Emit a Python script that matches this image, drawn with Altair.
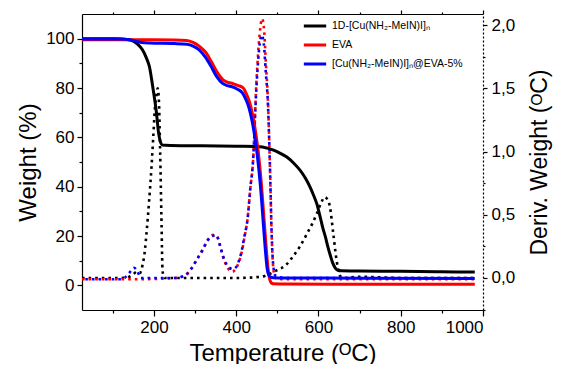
import altair as alt
import pandas as pd

# ---- series names (legend) ----
series_names = ["1D-[Cu(NH\u2082-MeIN)I]\u2099", "EVA", "[Cu(NH\u2082-MeIN)I]\u2099@EVA-5%"]
series_colors = ["#000000", "#ff0000", "#0000ff"]

# ---- TGA curves (left axis, Weight %) ----
t_black_tga = [25, 100, 140, 150, 160, 172, 182, 189, 197, 206, 211, 216, 220, 240, 300, 400, 457, 489, 505, 523, 540, 555, 568, 579, 588, 596, 603, 610, 617, 623, 629, 635, 641, 647, 655, 700, 800, 900, 980]
w_black_tga = [100, 100, 99.6, 99, 97.8, 95.5, 92, 88.6, 80.5, 70, 62, 58, 56.9, 56.7, 56.6, 56.4, 56.2, 54.9, 53.7, 52, 49.5, 46.7, 43.5, 40, 36.5, 33, 28.5, 23.6, 19.5, 15.5, 12, 8.9, 7, 6.1, 5.9, 5.8, 5.7, 5.5, 5.4]

t_red_tga = [25, 150, 250, 280, 295, 310, 327, 340, 355, 368, 380, 392, 405, 417, 425, 433, 440, 445, 453, 461, 469, 473, 477, 481, 486, 492, 520, 700, 980]
w_red_tga = [99.6, 99.6, 99.5, 99.3, 98.5, 97, 94.2, 90.5, 86, 83.3, 82.3, 81.8, 81, 80, 77.5, 74, 69, 64.4, 54.9, 41.4, 23.7, 15, 7.4, 2.8, 0.9, 0.6, 0.5, 0.4, 0.4]

t_blue_tga = [25, 120, 140, 155, 170, 190, 250, 280, 295, 310, 325, 338, 353, 366, 378, 390, 403, 415, 423, 431, 438, 443, 451, 459, 467, 471, 475, 479, 484, 490, 520, 700, 980]
w_blue_tga = [99.9, 99.9, 99.6, 99, 98.4, 98.2, 98, 97.7, 97, 95.5, 92.5, 89, 84.5, 82, 81, 80.5, 79.5, 78, 75.5, 72, 67, 62.5, 53, 40, 22.5, 14, 7, 4.2, 3.3, 3.1, 3.0, 2.9, 2.8]

# ---- DTG curves (right axis, Deriv. Weight) ----
t_black_dtg = [25, 120, 140, 150, 158, 166, 172, 178, 182, 188, 194, 198, 202, 206, 209, 212, 215, 218, 221, 226, 300, 400, 460, 480, 498, 520, 538, 555, 572, 585, 596, 606, 615, 622, 628, 636, 644, 652, 660, 700, 800, 980]
d_black_dtg = [0.0, 0.0, 0.01, 0.03, 0.05, 0.04, 0.1, 0.22, 0.36, 0.6, 0.88, 1.1, 1.33, 1.45, 1.5, 1.4, 1.0, 0.5, 0.05, 0.0, 0.0, 0.0, 0.01, 0.03, 0.06, 0.1, 0.17, 0.25, 0.35, 0.43, 0.51, 0.59, 0.64, 0.62, 0.56, 0.35, 0.14, 0.02, 0.0, 0.01, 0.0, 0.0]

t_red_dtg = [25, 150, 250, 275, 290, 305, 318, 331, 342, 350, 356, 362, 368, 376, 384, 391, 398, 406, 413, 420, 428, 434, 441, 449, 457, 463, 468, 472, 477, 482, 486, 490, 495, 520, 980]
d_red_dtg = [-0.01, -0.01, 0.0, 0.02, 0.07, 0.15, 0.22, 0.30, 0.34, 0.34, 0.31, 0.24, 0.17, 0.1, 0.06, 0.05, 0.07, 0.12, 0.2, 0.32, 0.48, 0.7, 0.93, 1.54, 1.93, 2.05, 1.95, 1.7, 1.41, 0.88, 0.36, 0.08, 0.0, -0.01, -0.01]

t_blue_dtg = [25, 120, 135, 145, 152, 160, 168, 250, 275, 290, 305, 318, 331, 342, 350, 356, 362, 368, 376, 384, 391, 398, 406, 413, 420, 428, 434, 441, 449, 457, 462, 467, 472, 477, 482, 486, 490, 495, 520, 980]
d_blue_dtg = [-0.01, -0.01, 0.02, 0.06, 0.08, 0.05, 0.0, 0.0, 0.02, 0.07, 0.15, 0.22, 0.30, 0.33, 0.34, 0.31, 0.24, 0.17, 0.11, 0.08, 0.07, 0.08, 0.13, 0.21, 0.33, 0.48, 0.7, 0.93, 1.5, 1.85, 1.92, 1.85, 1.62, 1.38, 0.88, 0.36, 0.1, 0.02, 0.0, 0.0]

tga_rows = []
for name, ts, ws in zip(series_names, [t_black_tga, t_red_tga, t_blue_tga], [w_black_tga, w_red_tga, w_blue_tga]):
    for t, w in zip(ts, ws):
        tga_rows.append({"T": t, "W": w, "series": name})
tga_df = pd.DataFrame(tga_rows)

def dtg_df(ts, ds):
    return pd.DataFrame({"T": ts, "D": ds})

FONT = "Liberation Sans"

x_scale = alt.Scale(domain=[25, 1000], nice=False, zero=False)
yl_scale = alt.Scale(domain=[-10, 110], nice=False, zero=False)
yr_scale = alt.Scale(domain=[-0.253, 2.087], nice=False, zero=False)

x_bottom = alt.Axis(
    orient="bottom", values=[100, 200, 300, 400, 500, 600, 700, 800, 900, 1000], format="d",
    labelExpr="datum.value % 200 === 0 ? datum.label : ''",
    tickSize={"condition": {"test": "datum.value % 200 !== 0", "value": 3}, "value": 6},
    labelFontSize=17, labelPadding=3, title="Temperature (\u1d3cC)", titleFontSize=24, titlePadding=6,
)
x_top = alt.Axis(
    orient="top", values=[100, 200, 300, 400, 500, 600, 700, 800, 900, 1000], labels=False,
    tickSize={"condition": {"test": "datum.value % 200 !== 0", "value": 2}, "value": 4},
    title=None,
)
y_left = alt.Axis(
    orient="left", values=[0, 10, 20, 30, 40, 50, 60, 70, 80, 90, 100],
    labelExpr="datum.value % 20 === 0 ? datum.label : ''",
    tickSize={"condition": {"test": "datum.value % 20 !== 0", "value": 3}, "value": 5},
    labelFontSize=17, labelPadding=3, title="Weight (%)", titleFontSize=24, titlePadding=5,
)
y_right = alt.Axis(
    orient="right", values=[-0.25, 0, 0.25, 0.5, 0.75, 1.0, 1.25, 1.5, 1.75, 2.0],
    labelExpr="datum.value % 0.5 === 0 ? replace(format(datum.value, '.1f'), '.', ',') : ''",
    tickSize={"condition": {"test": "datum.value % 0.5 !== 0", "value": 2}, "value": 4},
    domainDash=[2, 2], labelFontSize=17, labelPadding=4,
    title="Deriv. Weight (\u1d3cC)", titleFontSize=23, titlePadding=14, titleAngle=270, titleBaseline="top",
)

def dtg_line(ts, ds, color, offset):
    return alt.Chart(dtg_df(ts, ds)).mark_line(
        color=color, strokeWidth=2.6, strokeDash=[2.6, 4.0], strokeDashOffset=offset, interpolate="monotone"
    ).encode(
        x=alt.X("T:Q", scale=x_scale, axis=x_top),
        y=alt.Y("D:Q", scale=yr_scale, axis=y_right),
    )

dtg = alt.layer(
    dtg_line(t_black_dtg, d_black_dtg, "#000000", 0),
    dtg_line(t_red_dtg, d_red_dtg, "#ff0000", 0),
    dtg_line(t_blue_dtg, d_blue_dtg, "#0000ff", 3.3),
)

tga = alt.Chart(tga_df).mark_line(strokeWidth=3, interpolate="monotone").encode(
    x=alt.X("T:Q", scale=x_scale, axis=x_bottom),
    y=alt.Y("W:Q", scale=yl_scale, axis=y_left),
    color=alt.Color(
        "series:N",
        scale=alt.Scale(domain=series_names, range=series_colors),
        sort=series_names,
        legend=alt.Legend(
            orient="none", legendX=220, legendY=-1, title=None, padding=0,
            symbolType="stroke", symbolStrokeWidth=3, symbolSize=500,
            labelFont=FONT, labelFontSize=10.5, labelColor="black", labelLimit=300,
            labelOffset=4, rowPadding=-3,
        ),
    ),
    order=alt.Order("series_order:Q"),
).transform_calculate(
    series_order="indexof(%s, datum.series)" % str(series_names).replace("'", '"')
)

chart = alt.layer(dtg, tga).resolve_scale(
    y="independent"
).resolve_axis(
    x="independent", y="independent"
).properties(
    width=401, height=296,
    autosize=alt.AutoSizeParams(type="none"),
    padding={"left": 74, "top": 6, "right": 73, "bottom": 54},
).configure_axis(
    labelFont=FONT, titleFont=FONT, labelColor="black", titleColor="black",
    domainColor="black", tickColor="black", titleFontWeight="normal", grid=False,
    domainWidth=1.2, tickWidth=1.2,
).configure_view(
    strokeOpacity=0
)

chart.save("out.html", embed_options={"renderer": "svg", "actions": False})
